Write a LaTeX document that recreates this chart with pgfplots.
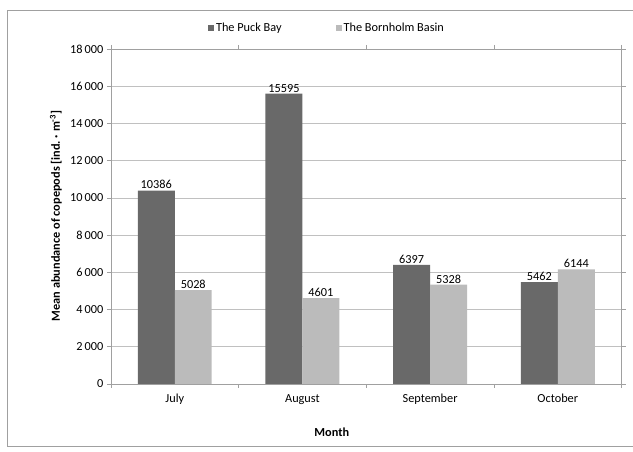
\documentclass[border=0pt]{standalone}
\usepackage{pgfplots}
\pgfplotsset{compat=1.18}
\usepackage{fontspec}
\setmainfont{Carlito}
\definecolor{darkbar}{RGB}{105,105,105}
\definecolor{lightbar}{RGB}{187,187,187}
\definecolor{gridc}{RGB}{192,192,192}
\definecolor{axisc}{RGB}{160,160,160}
\newcommand{\cf}{\fontsize{12.3}{14}\selectfont}
\begin{document}
\begin{tikzpicture}[font=\cf]
\begin{axis}[
  at={(0pt,0pt)}, anchor=south west,
  scale only axis, width=511pt, height=335pt,
  ybar=0pt, bar width=37pt,
  xmin=-0.5, xmax=3.5, ymin=0, ymax=18000,
  xtick={0,1,2,3}, xticklabels={July,August,September,October},
  minor xtick={-0.5,0.5,1.5,2.5,3.5},
  major x tick style={draw=none},
  minor x tick style={axisc},
  ytick={0,2000,...,18000},
  axis line style={axisc},
  every tick/.style={axisc},
  tick align=outside, major tick length=4pt, minor tick length=4pt,
  ymajorgrids, grid style={gridc},
  yticklabel style={/pgf/number format/.cd,1000 sep={\,},fixed,assume math mode=true},
  scaled y ticks=false,
  xticklabel style={yshift=-3pt},
  tick label style={font=\cf},
  nodes near coords,
  every node near coord/.append style={font=\cf,black,yshift=-2pt,/pgf/number format/.cd,1000 sep={},assume math mode=true},
  legend style={at={(0.423,1.063)}, anchor=center, draw=none, fill=none, legend columns=2,
    font=\cf,
    /tikz/every even column/.append style={column sep=52pt}},
  legend image code/.code={\fill[#1] (0pt,-3pt) rectangle (6pt,3pt);},
]
\addplot[fill=darkbar, draw=none] coordinates {(0,10386) (1,15595) (2,6397) (3,5462)};
\addplot[fill=lightbar, draw=none] coordinates {(0,5028) (1,4601) (2,5328) (3,6144)};
\legend{The Puck Bay, The Bornholm Basin}
\end{axis}
\path (-111pt,-68pt) rectangle (522pt,384pt);
\draw[axisc,line width=0.8pt] (522pt,-63pt) -- (-104pt,-63pt) -- (-104pt,374pt) -- (522pt,374pt);
\node[rotate=90, font=\cf\bfseries] at (-55pt,168pt) {Mean abundance of copepods [ind.~·~m\textsuperscript{-3}]};
\node[font=\cf\bfseries] at (221pt,-49pt) {Month};
\end{tikzpicture}
\end{document}
